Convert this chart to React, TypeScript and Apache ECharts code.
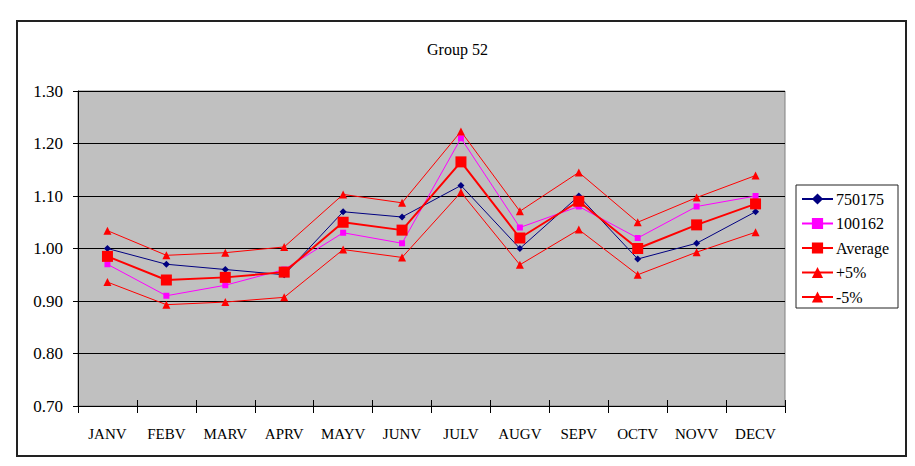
import React, { useEffect, useRef } from "react";
import * as echarts from "echarts";

const months = ["JANV", "FEBV", "MARV", "APRV", "MAYV", "JUNV", "JULV", "AUGV", "SEPV", "OCTV", "NOVV", "DECV"];
const s750175 = [1.0, 0.97, 0.96, 0.95, 1.07, 1.06, 1.12, 1.0, 1.1, 0.98, 1.01, 1.07];
const s100162 = [0.97, 0.91, 0.93, 0.96, 1.03, 1.01, 1.21, 1.04, 1.08, 1.02, 1.08, 1.1];
const average = [0.985, 0.94, 0.945, 0.955, 1.05, 1.035, 1.165, 1.02, 1.09, 1.0, 1.045, 1.085];
const plus5 = [1.034, 0.987, 0.992, 1.003, 1.103, 1.087, 1.223, 1.071, 1.145, 1.05, 1.097, 1.139];
const minus5 = [0.936, 0.893, 0.898, 0.907, 0.998, 0.983, 1.107, 0.969, 1.036, 0.95, 0.993, 1.031];

const FONT = "'Liberation Serif', 'DejaVu Serif', serif";

export default function App() {
  const ref = useRef<HTMLDivElement>(null);
  useEffect(() => {
    if (!ref.current) return;
    const chart = echarts.init(ref.current, null, { renderer: "svg" });
    chart.setOption({
      animation: false,
      backgroundColor: "#ffffff",
      title: {
        text: "Group 52",
        left: "center",
        top: 36,
        textStyle: { fontFamily: FONT, fontSize: 16, fontWeight: "normal", color: "#000" },
      },
      graphic: [
        {
          type: "rect",
          shape: { x: 17, y: 21, width: 889, height: 435 },
          style: { fill: "none", stroke: "#222", lineWidth: 2 },
          silent: true,
          z: -1,
        },
      ],
      legend: {
        orient: "vertical",
        left: 796,
        top: 185,
        padding: [6, 9, 3, 5],
        itemWidth: 31,
        itemHeight: 14,
        itemGap: 8.5,
        backgroundColor: "#fff",
        borderColor: "#222",
        borderWidth: 1,
        borderRadius: 0,
        textStyle: { fontFamily: FONT, fontSize: 16, color: "#000", padding: [0, 0, 0, -2] },
        data: ["750175", "100162", "Average", "+5%", "-5%"],
      },
      grid: {
        left: 78,
        top: 91,
        right: 130,
        bottom: 60,
        show: true,
        backgroundColor: "#C0C0C0",
        borderColor: "#808080",
        borderWidth: 1,
      },
      xAxis: [
        {
          type: "category",
          data: months,
          boundaryGap: true,
          axisLine: { show: true, lineStyle: { color: "#000", width: 1 } },
          axisTick: { show: true, inside: false, length: 7, alignWithLabel: false, lineStyle: { color: "#000" } },
          axisLabel: { fontFamily: FONT, fontSize: 15, color: "#000", margin: 20 },
          splitLine: { show: false },
        },
        {
          type: "category",
          data: months,
          position: "bottom",
          boundaryGap: true,
          axisLine: { show: false },
          axisTick: { show: true, inside: true, length: 6, alignWithLabel: false, lineStyle: { color: "#000" } },
          axisLabel: { show: false },
          splitLine: { show: false },
        },
      ],
      yAxis: {
        type: "value",
        min: 0.7,
        max: 1.3,
        interval: 0.1,
        axisLine: { show: true, lineStyle: { color: "#000", width: 1 } },
        axisTick: { show: true, inside: false, length: 5, lineStyle: { color: "#000" } },
        axisLabel: {
          fontFamily: FONT,
          fontSize: 17,
          color: "#000",
          margin: 15,
          formatter: (v: number) => v.toFixed(2),
        },
        splitLine: { show: true, lineStyle: { color: "#000", width: 1 } },
      },
      series: [
        {
          name: "750175",
          type: "line",
          data: s750175,
          symbol: "diamond",
          symbolSize: 7,
          lineStyle: { color: "#000080", width: 1 },
          itemStyle: { color: "#000080" },
        },
        {
          name: "100162",
          type: "line",
          data: s100162,
          symbol: "rect",
          symbolSize: 6,
          lineStyle: { color: "#FF00FF", width: 1 },
          itemStyle: { color: "#FF00FF" },
        },
        {
          name: "Average",
          type: "line",
          data: average,
          symbol: "rect",
          symbolSize: 11,
          lineStyle: { color: "#FF0000", width: 2 },
          itemStyle: { color: "#FF0000" },
        },
        {
          name: "+5%",
          type: "line",
          data: plus5,
          symbol: "triangle",
          symbolSize: 8,
          lineStyle: { color: "#FF0000", width: 1 },
          itemStyle: { color: "#FF0000" },
        },
        {
          name: "-5%",
          type: "line",
          data: minus5,
          symbol: "triangle",
          symbolSize: 8,
          lineStyle: { color: "#FF0000", width: 1 },
          itemStyle: { color: "#FF0000" },
        },
      ],
    });
    return () => chart.dispose();
  }, []);
  return <div ref={ref} style={{ position: "absolute", left: 0, top: 0, width: 915, height: 466 }} />;
}
